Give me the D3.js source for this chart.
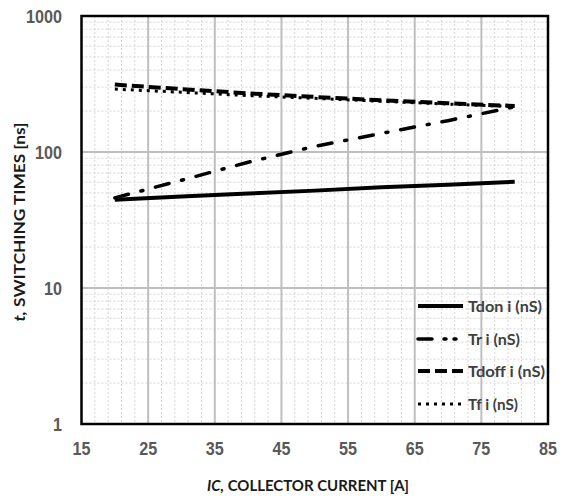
<!DOCTYPE html>
<html>
<head>
<meta charset="utf-8">
<script src="https://cdn.jsdelivr.net/npm/d3@7"></script>
<style>
  html, body { margin: 0; padding: 0; background: #fff; }
  svg { display: block; }
</style>
</head>
<body>
<svg id="chart" width="569" height="501"></svg>
<script>
// Collector current values (A)
const currents = [20, 30, 40, 50, 60, 70, 80];

// Switching times (ns)
const tdon  = [44.5, 47, 49.5, 52, 55, 57.5, 60.5];
const tr    = [46, 62, 84, 110, 137, 170, 215];
const tdoff = [313, 290, 270, 254, 240, 228, 218];
const tf    = [290, 275, 260, 248, 236, 225, 216];

const seriesNames = ["Tdon i (nS)", "Tr i (nS)", "Tdoff i (nS)", "Tf i (nS)"];
const xTicks = [15, 25, 35, 45, 55, 65, 75, 85];
const yTicks = [1, 10, 100, 1000];

const svg = d3.select("#chart");
const m = { left: 81.5, right: 548, top: 16, bottom: 424 };

const x = d3.scaleLinear().domain([15, 85]).range([m.left, m.right]);
const y = d3.scaleLog().domain([1, 1000]).range([m.bottom, m.top]);

// Minor grid (dotted)
const minorX = d3.range(15, 85.01, 2).filter(v => (v - 15) % 10 !== 0);
const minorY = [];
[1, 10, 100].forEach(d => { for (let k = 2; k <= 9; k++) minorY.push(d * k); });

const grid = svg.append("g");
grid.selectAll(".mx").data(minorX).join("line")
  .attr("x1", d => x(d)).attr("x2", d => x(d))
  .attr("y1", m.top).attr("y2", m.bottom)
  .attr("stroke", "#d4d4d4").attr("stroke-width", 1)
  .attr("stroke-dasharray", "2,2");
grid.selectAll(".my").data(minorY).join("line")
  .attr("y1", d => y(d)).attr("y2", d => y(d))
  .attr("x1", m.left).attr("x2", m.right)
  .attr("stroke", "#d4d4d4").attr("stroke-width", 1)
  .attr("stroke-dasharray", "2,2");

// Major grid
grid.selectAll(".Mx").data(xTicks.slice(1, -1)).join("line")
  .attr("x1", d => x(d)).attr("x2", d => x(d))
  .attr("y1", m.top).attr("y2", m.bottom)
  .attr("stroke", "#bfbfbf").attr("stroke-width", 2);
grid.selectAll(".My").data(yTicks.slice(1, -1)).join("line")
  .attr("y1", d => y(d)).attr("y2", d => y(d))
  .attr("x1", m.left).attr("x2", m.right)
  .attr("stroke", "#bfbfbf").attr("stroke-width", 2);

// Series lines
const styles = [
  { data: tdon,  width: 4,   dash: null },
  { data: tr,    width: 3.5, dash: "14,13,2,13", cap: "round" },
  { data: tdoff, width: 4,   dash: "12,5" },
  { data: tf,    width: 3,   dash: "3,5" }
];
const line = d3.line().x((d, i) => x(currents[i])).y(d => y(d));

// draw order: Tf under Tdoff
[3, 2, 1, 0].forEach(i => {
  const s = styles[i];
  svg.append("path")
    .attr("d", line(s.data))
    .attr("fill", "none")
    .attr("stroke", "#000")
    .attr("stroke-width", s.width)
    .attr("stroke-dasharray", s.dash)
    .attr("stroke-linecap", s.cap || "butt");
});

// Plot border
svg.append("rect")
  .attr("x", m.left).attr("y", m.top)
  .attr("width", m.right - m.left).attr("height", m.bottom - m.top)
  .attr("fill", "none").attr("stroke", "#000").attr("stroke-width", 2.5);

// Tick labels (slightly condensed digits)
const tickFont = "'Liberation Sans', Arial, sans-serif";
svg.selectAll(".xl").data(xTicks).join("text")
  .attr("x", d => x(d)).attr("y", 455)
  .attr("text-anchor", "middle")
  .attr("font-family", tickFont).attr("font-size", 18).attr("font-weight", "bold")
  .attr("textLength", d => String(d).length * 9)
  .attr("lengthAdjust", "spacingAndGlyphs")
  .attr("fill", "#595959")
  .text(d => d);
svg.selectAll(".yl").data(yTicks).join("text")
  .attr("x", 62).attr("y", d => y(d) + 6.5)
  .attr("text-anchor", "end")
  .attr("font-family", tickFont).attr("font-size", 18).attr("font-weight", "bold")
  .attr("textLength", d => String(d).length * 9)
  .attr("lengthAdjust", "spacingAndGlyphs")
  .attr("fill", "#595959")
  .text(d => d);

// Axis titles
const titleFont = "Lato, 'Open Sans', sans-serif";
const xt = svg.append("text")
  .attr("x", 308).attr("y", 491)
  .attr("text-anchor", "middle")
  .attr("font-family", titleFont).attr("font-size", 16).attr("font-weight", "bold")
  .attr("textLength", 202).attr("lengthAdjust", "spacingAndGlyphs")
  .attr("fill", "#1a1a1a");
xt.append("tspan").attr("font-style", "italic").text("IC,");
xt.append("tspan").text(" COLLECTOR CURRENT [A]");

const yt = svg.append("text")
  .attr("transform", "translate(25,222) rotate(-90)")
  .attr("text-anchor", "middle")
  .attr("font-family", titleFont).attr("font-size", 16).attr("font-weight", "bold")
  .attr("textLength", 199).attr("lengthAdjust", "spacingAndGlyphs")
  .attr("fill", "#1a1a1a");
yt.append("tspan").attr("font-style", "italic").text("t,");
yt.append("tspan").text(" SWITCHING TIMES [ns]");

// Legend
const legY = [306, 339, 371, 404];
const legLen = [74, 52, 77, 50];
const leg = svg.append("g");
styles.forEach((s, i) => {
  leg.append("line")
    .attr("x1", 418).attr("x2", 463)
    .attr("y1", legY[i]).attr("y2", legY[i])
    .attr("stroke", "#000")
    .attr("stroke-width", s.width)
    .attr("stroke-dasharray", i === 1 ? "14,12,2,8,2,20" : s.dash)
    .attr("stroke-linecap", s.cap || "butt");
  leg.append("text")
    .attr("x", 468).attr("y", legY[i] + 6)
    .attr("font-family", titleFont).attr("font-size", 16).attr("font-weight", "bold")
    .attr("textLength", legLen[i]).attr("lengthAdjust", "spacingAndGlyphs")
    .attr("fill", "#404040")
    .text(seriesNames[i]);
});
</script>
</body>
</html>
